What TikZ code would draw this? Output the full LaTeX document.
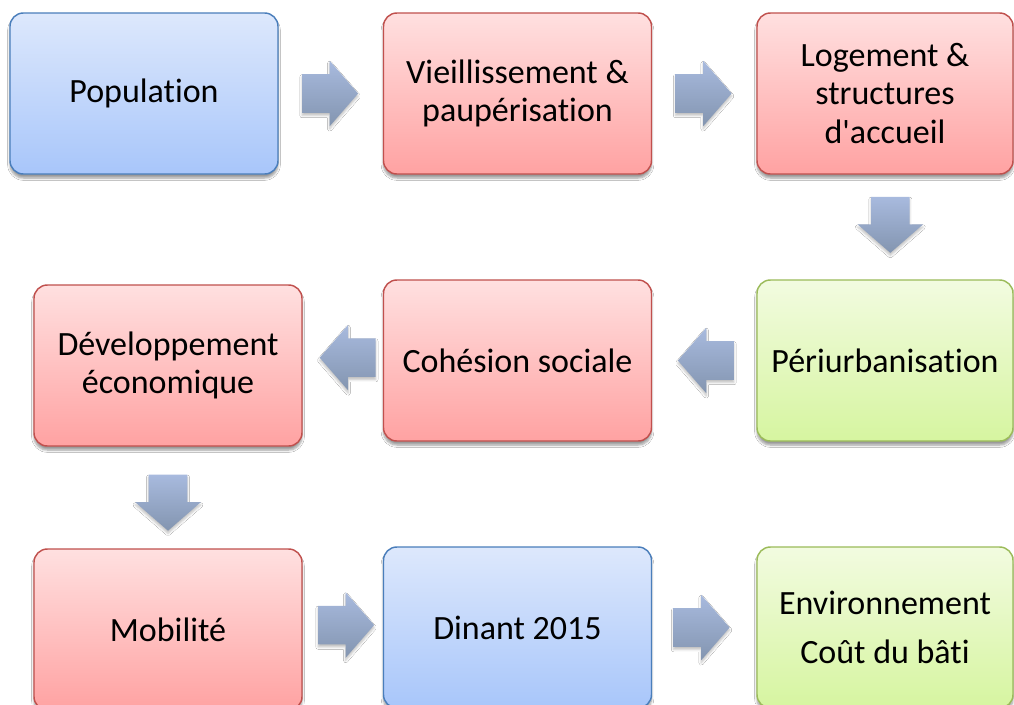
\documentclass[tikz,border=0pt]{standalone}
\usepackage{fontspec}
\newfontfamily\boxfont{Carlito}[Ligatures=NoCommon]
\usetikzlibrary{shapes.arrows,calc,shadows.blur}

\definecolor{blueline}{RGB}{74,126,187}
\definecolor{bluetop}{RGB}{221,232,252}
\definecolor{bluebot}{RGB}{168,198,250}
\definecolor{redline}{RGB}{192,80,77}
\definecolor{redtop}{RGB}{255,224,224}
\definecolor{redbot}{RGB}{255,162,162}
\definecolor{greenline}{RGB}{155,187,89}
\definecolor{greentop}{RGB}{242,251,224}
\definecolor{greenbot}{RGB}{214,245,160}
\definecolor{flowtop}{RGB}{168,186,222}
\definecolor{flowbot}{RGB}{131,149,176}

\tikzset{
  box/.style={rectangle, rounded corners=10pt, minimum width=201pt, minimum height=120.75pt,
    inner sep=0pt, line width=1.1pt, align=center,
    font=\boxfont\fontsize{25.5}{29}\selectfont,
    blur shadow={shadow xshift=0pt, shadow yshift=-3pt, shadow blur steps=6, shadow opacity=40}},
  bluebox/.style={box, draw=blueline, top color=bluetop, bottom color=bluebot},
  redbox/.style={box, draw=redline, top color=redtop, bottom color=redbot},
  greenbox/.style={box, draw=greenline, top color=greentop, bottom color=greenbot},
  flow/.style={single arrow, single arrow head extend=10.1pt, single arrow tip angle=98,
    minimum height=42pt, inner xsep=5pt, inner ysep=14.25pt, draw=none,
    top color=flowtop, bottom color=flowbot,
    blur shadow={shadow xshift=0pt, shadow yshift=-2pt, shadow blur steps=4, shadow opacity=25}},
  flowdown/.style={flow, shape border rotate=270, inner xsep=14.25pt, inner ysep=5pt},
  flowleft/.style={flow, shape border rotate=180},
}

\begin{document}
\begin{tikzpicture}[x=0.75pt,y=0.75pt,yscale=-1,xscale=1]
        \clip (0,0) rectangle (1014,704);
        \fill[white] (0,0) rectangle (1014,704);

        % first row
        \node[bluebox] (pop) at (144,93.5) {Population};
        \node[redbox] (vie) at (517.5,93.5) {Vieillissement \&\\paupérisation};
        \node[redbox, minimum width=192pt] (log) at (885,93.5) {Logement \&\\structures\\d'accueil};

        % second row
        \node[redbox] (dev) at (168,365.5) {Développement\\économique};
        \node[redbox] (coh) at (517.5,360.5) {Cohésion sociale};
        \node[greenbox, minimum width=192pt] (peri) at (885,360.5) {Périurbanisation};

        % third row
        \node[redbox] (mob) at (168,629.5) {Mobilité};
        \node[bluebox] (din) at (517.5,627.5) {Dinant 2015};
        \node[greenbox, minimum width=192pt] (env) at (885,627.5) {Environnement\\[8pt]Coût du bâti};

        % block arrows
        \node[flow, xshift=-6.75pt] (f1) at ($(pop.east)!0.5!(vie.west)$) {};
        \node[flow, xshift=-6.75pt] (f2) at ($(vie.east)!0.5!(log.west)$) {};
        \node[flowdown, xshift=4pt, yshift=7.9pt] (f3) at ($(log.south)!0.5!(peri.north)$) {};
        \node[flowleft, xshift=7.5pt] (f4) at ($(peri.west)!0.5!(coh.east)$) {};
        \node[flowleft, xshift=10pt, yshift=4pt] (f5) at ($(coh.west)!0.5!(dev.east)$) {};
        \node[flowdown, yshift=2.4pt] (f6) at ($(dev.south)!0.5!(mob.north)$) {};
        \node[flow, xshift=-3.75pt, yshift=2.6pt] (f7) at ($(mob.east)!0.5!(din.west)$) {};
        \node[flow, xshift=-8.25pt] (f8) at ($(din.east)!0.5!(env.west)$) {};

    \end{tikzpicture}
\end{document}
